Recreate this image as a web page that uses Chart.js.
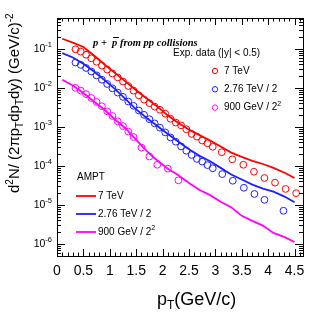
<!DOCTYPE html>
<html>
<head>
<meta charset="utf-8">
<script src="https://cdn.jsdelivr.net/npm/chart.js@4/dist/chart.umd.min.js"></script>
<style>
  html, body { margin: 0; padding: 0; background: #fff; }
  #wrap { width: 332px; height: 322px; }
</style>
</head>
<body>
<div id="wrap"><canvas id="spectra" width="332" height="322"></canvas></div>
<script>
// AMPT curves (pT grid shared by all three energies)
const amptPt = [0.1, 0.3, 0.5, 0.7, 0.9, 1.1, 1.3, 1.5, 1.7, 1.9, 2.1, 2.3, 2.5, 2.7, 2.9, 3.1, 3.3, 3.5, 3.7, 3.9, 4.1, 4.3, 4.5];
const ampt7TeV = [1.82e-1, 1.45e-1, 1.12e-1, 6.76e-2, 3.98e-2, 2.40e-2, 1.45e-2, 8.71e-3, 5.37e-3, 3.31e-3, 1.95e-3, 1.26e-3,
  8.51e-4, 6.17e-4, 4.47e-4, 3.16e-4, 2.19e-4, 1.70e-4, 1.35e-4, 1.12e-4, 8.91e-5, 6.76e-5, 4.90e-5];
const ampt276TeV = [7.76e-2, 6.03e-2, 4.17e-2, 2.63e-2, 1.58e-2, 9.33e-3, 5.13e-3, 2.82e-3, 1.70e-3, 1.05e-3, 6.61e-4, 4.17e-4,
  2.69e-4, 1.82e-4, 1.32e-4, 8.91e-5, 6.03e-5, 4.47e-5, 3.31e-5, 2.63e-5, 2.19e-5, 1.66e-5, 1.17e-5];
const ampt900GeV = [1.62e-2, 1.15e-2, 7.41e-3, 4.47e-3, 2.75e-3, 1.55e-3, 9.12e-4, 4.68e-4, 2.40e-4, 1.38e-4, 8.51e-5, 5.75e-5,
  3.63e-5, 2.40e-5, 1.78e-5, 1.20e-5, 8.71e-6, 5.25e-6, 3.89e-6, 2.95e-6, 1.91e-6, 1.51e-6, 1.12e-6];

// Exp. data
const exp7TeVPt = [0.35, 0.45, 0.55, 0.65, 0.75, 0.85, 0.95, 1.05, 1.15, 1.25, 1.35, 1.45, 1.55, 1.65, 1.75, 1.85, 1.95,
  2.05, 2.15, 2.25, 2.35, 2.45, 2.55, 2.65, 2.75, 2.85, 2.95, 3.12, 3.32, 3.53, 3.73, 3.93, 4.13, 4.33, 4.53];
const exp7TeV = [9.77e-2, 8.51e-2, 7.08e-2, 5.75e-2, 4.68e-2, 3.72e-2, 2.95e-2, 2.34e-2, 1.86e-2, 1.45e-2, 1.12e-2, 8.51e-3,
  6.46e-3, 5.01e-3, 4.07e-3, 3.31e-3, 2.75e-3, 2.19e-3, 1.62e-3, 1.29e-3, 1.10e-3, 8.71e-4, 6.61e-4, 5.62e-4, 4.47e-4,
  3.80e-4, 3.09e-4, 2.24e-4, 1.48e-4, 1.07e-4, 7.08e-5, 4.90e-5, 3.72e-5, 2.57e-5, 2.00e-5];
const exp276TeVPt = [0.35, 0.45, 0.55, 0.65, 0.75, 0.85, 0.95, 1.05, 1.15, 1.25, 1.35, 1.45, 1.55, 1.65, 1.75, 1.85, 1.95,
  2.05, 2.15, 2.25, 2.35, 2.45, 2.55, 2.65, 2.75, 2.85, 2.95, 3.13, 3.33, 3.54, 3.74, 3.93, 4.29];
const exp276TeV = [4.47e-2, 3.89e-2, 3.24e-2, 2.63e-2, 2.09e-2, 1.62e-2, 1.26e-2, 9.77e-3, 7.59e-3, 5.89e-3, 4.47e-3, 3.47e-3,
  2.63e-3, 2.04e-3, 1.58e-3, 1.23e-3, 9.55e-4, 7.24e-4, 5.37e-4, 4.17e-4, 3.16e-4, 2.45e-4, 1.91e-4, 1.51e-4, 1.29e-4,
  1.05e-4, 8.71e-5, 6.17e-5, 4.17e-5, 2.75e-5, 1.91e-5, 1.35e-5, 7.08e-6];
const exp900GeVPt = [0.35, 0.45, 0.55, 0.65, 0.75, 0.85, 0.95, 1.05, 1.15, 1.25, 1.35, 1.45, 1.6, 1.75, 1.9, 2.1, 2.3];
const exp900GeV = [1.00e-2, 8.51e-3, 6.92e-3, 5.50e-3, 4.37e-3, 3.39e-3, 2.51e-3, 1.91e-3, 1.38e-3, 1.05e-3, 7.59e-4, 5.50e-4,
  2.95e-4, 1.74e-4, 1.07e-4, 8.51e-5, 4.27e-5];

// tick labels
const xTickValues = [0, 0.5, 1, 1.5, 2, 2.5, 3, 3.5, 4, 4.5];
const xTickLabels = ['0', '0.5', '1', '1.5', '2', '2.5', '3', '3.5', '4', '4.5'];
const yTickPowers = [-1, -2, -3, -4, -5, -6];

const RED = '#ff0000', BLUE = '#1f1fff', MAG = '#ff00ff';
const SANS = "'Liberation Sans', Arial, sans-serif";

const pairs = (xs, ys) => xs.map((x, i) => ({ x: x, y: ys[i] }));

const lineSet = (label, xs, ys, color) => ({
  label: label, data: pairs(xs, ys), showLine: true, borderColor: color,
  borderWidth: 1.8, pointRadius: 0, tension: 0, order: 2
});
const markSet = (label, xs, ys, color) => ({
  label: label, data: pairs(xs, ys), showLine: false, borderColor: color,
  backgroundColor: 'rgba(0,0,0,0)', pointStyle: 'circle', pointRadius: 3.4, pointBorderWidth: 1, order: 1
});

// draws text pieces: [text, size, dy]  (dy shifts baseline, negative = up)
function drawRich(ctx, parts, x, y, family, style) {
  let cx = x;
  parts.forEach(p => {
    ctx.font = (style ? style + ' ' : '') + p[1] + 'px ' + family;
    ctx.fillText(p[0], cx, y + (p[2] || 0));
    cx += ctx.measureText(p[0]).width;
  });
  return cx;
}

// ROOT-like frame, inward ticks, labels, titles and legends
const rootFrame = {
  id: 'rootFrame',
  afterDraw(chart) {
    const ctx = chart.ctx;
    const a = chart.chartArea;
    const xs = chart.scales.x, ys = chart.scales.y;
    ctx.save();
    ctx.strokeStyle = '#000';
    ctx.fillStyle = '#000';
    ctx.lineWidth = 1;
    ctx.strokeRect(Math.round(a.left) + 0.5, Math.round(a.top) + 0.5, Math.round(a.right - a.left), Math.round(a.bottom - a.top));

    // x ticks, bottom and top
    ctx.beginPath();
    for (let i = 0; i <= 46; i++) {
      const v = i / 10;
      const px = Math.round(xs.getPixelForValue(v)) + 0.5;
      const len = (i % 5 === 0) ? 7 : 3.5;
      ctx.moveTo(px, a.bottom); ctx.lineTo(px, a.bottom - len);
      ctx.moveTo(px, a.top); ctx.lineTo(px, a.top + len);
    }
    // y ticks, left and right
    for (let n = -7; n <= 0; n++) {
      for (let k = 1; k <= 9; k++) {
        const v = k * Math.pow(10, n);
        if (v < ys.min || v > ys.max) continue;
        const py = Math.round(ys.getPixelForValue(v)) + 0.5;
        const len = (k === 1) ? 8 : 4;
        ctx.moveTo(a.left, py); ctx.lineTo(a.left + len, py);
        ctx.moveTo(a.right, py); ctx.lineTo(a.right - len, py);
      }
    }
    ctx.stroke();

    // x tick labels
    ctx.textAlign = 'center';
    ctx.textBaseline = 'middle';
    ctx.font = '14px ' + SANS;
    xTickValues.forEach((v, i) => ctx.fillText(xTickLabels[i], xs.getPixelForValue(v), a.bottom + 15));

    // y tick labels 10^n
    ctx.textAlign = 'left';
    ctx.textBaseline = 'middle';
    yTickPowers.forEach(p => {
      const py = ys.getPixelForValue(Math.pow(10, p));
      ctx.font = '7.5px ' + SANS;
      const wSup = ctx.measureText(String(p)).width;
      ctx.font = '10.5px ' + SANS;
      const wBase = ctx.measureText('10').width;
      const x0 = a.left - 5 - wSup - wBase;
      drawRich(ctx, [['10', 10.5, 0], [String(p), 7.5, -4]], x0, py, SANS);
    });

    // x title
    ctx.textBaseline = 'alphabetic';
    drawRich(ctx, [['p', 18, 0], ['T', 12, 4], ['(GeV/c)', 18, 0]], 157, 305, SANS);

    // y title (rotated)
    ctx.save();
    ctx.translate(19, 193);
    ctx.rotate(-Math.PI / 2);
    drawRich(ctx, [['d', 15, 0], ['2', 10, -6], ['N/ (2\u03c0p', 15, 0], ['T', 10, 4], ['dp', 15, 0], ['T', 10, 4],
      ['dy) (GeV/c)', 15, 0], ['-2', 10, -6]], 0, 0, SANS);
    ctx.restore();

    // system label
    const serif = "'Liberation Serif', 'Times New Roman', serif";
    let cx = drawRich(ctx, [['p +  ', 10.5, 0]], 93, 46, serif, 'bold italic');
    ctx.font = 'bold italic 10.5px ' + serif;
    const wp = ctx.measureText('p').width;
    ctx.fillText('p', cx, 46);
    ctx.beginPath();
    ctx.moveTo(cx + 1, 37.5); ctx.lineTo(cx + wp + 1.5, 37.5);
    ctx.stroke();
    drawRich(ctx, [[' from pp collisions', 10.5, 0]], cx + wp, 46, serif, 'bold italic');

    // experimental data legend
    ctx.textBaseline = 'middle';
    drawRich(ctx, [['Exp. data (|y| < 0.5)', 10, 0]], 173, 53, SANS);
    const expEntries = [[RED, [['7 TeV', 10, 0]]], [BLUE, [['2.76 TeV / 2', 10, 0]]],
      [MAG, [['900 GeV / 2', 10, 0], ['2', 7, -4]]]];
    expEntries.forEach((e, i) => {
      const y = 71 + i * 18.3;
      ctx.strokeStyle = e[0];
      ctx.beginPath(); ctx.arc(215, y, 2.7, 0, Math.PI * 2); ctx.stroke();
      ctx.fillStyle = '#000';
      drawRich(ctx, e[1], 224, y, SANS);
    });

    // AMPT legend
    drawRich(ctx, [['AMPT', 10, 0]], 77, 177, SANS);
    const amptEntries = [[RED, [['7 TeV', 10, 0]]], [BLUE, [['2.76 TeV / 2', 10, 0]]],
      [MAG, [['900 GeV / 2', 10, 0], ['2', 7, -4]]]];
    amptEntries.forEach((e, i) => {
      const y = 196 + i * 18;
      ctx.strokeStyle = e[0];
      ctx.lineWidth = 1.8;
      ctx.beginPath(); ctx.moveTo(76, y); ctx.lineTo(96, y); ctx.stroke();
      ctx.fillStyle = '#000';
      drawRich(ctx, e[1], 98, y, SANS);
    });
    ctx.restore();
  }
};

new Chart(document.getElementById('spectra').getContext('2d'), {
  type: 'scatter',
  data: {
    datasets: [
      lineSet('AMPT 7 TeV', amptPt, ampt7TeV, RED),
      lineSet('AMPT 2.76 TeV / 2', amptPt, ampt276TeV, BLUE),
      lineSet('AMPT 900 GeV / 4', amptPt, ampt900GeV, MAG),
      markSet('Exp. 7 TeV', exp7TeVPt, exp7TeV, RED),
      markSet('Exp. 2.76 TeV / 2', exp276TeVPt, exp276TeV, BLUE),
      markSet('Exp. 900 GeV / 4', exp900GeVPt, exp900GeV, MAG)
    ]
  },
  options: {
    responsive: false,
    animation: false,
    devicePixelRatio: 1,
    layout: { padding: { left: 57, top: 18, right: 29, bottom: 66 } },
    plugins: { legend: { display: false }, tooltip: { enabled: false } },
    scales: {
      x: { type: 'linear', min: 0, max: 4.66, display: false },
      y: { type: 'logarithmic', min: 4.9e-7, max: 0.62, display: false }
    }
  },
  plugins: [rootFrame]
});
</script>
</body>
</html>
